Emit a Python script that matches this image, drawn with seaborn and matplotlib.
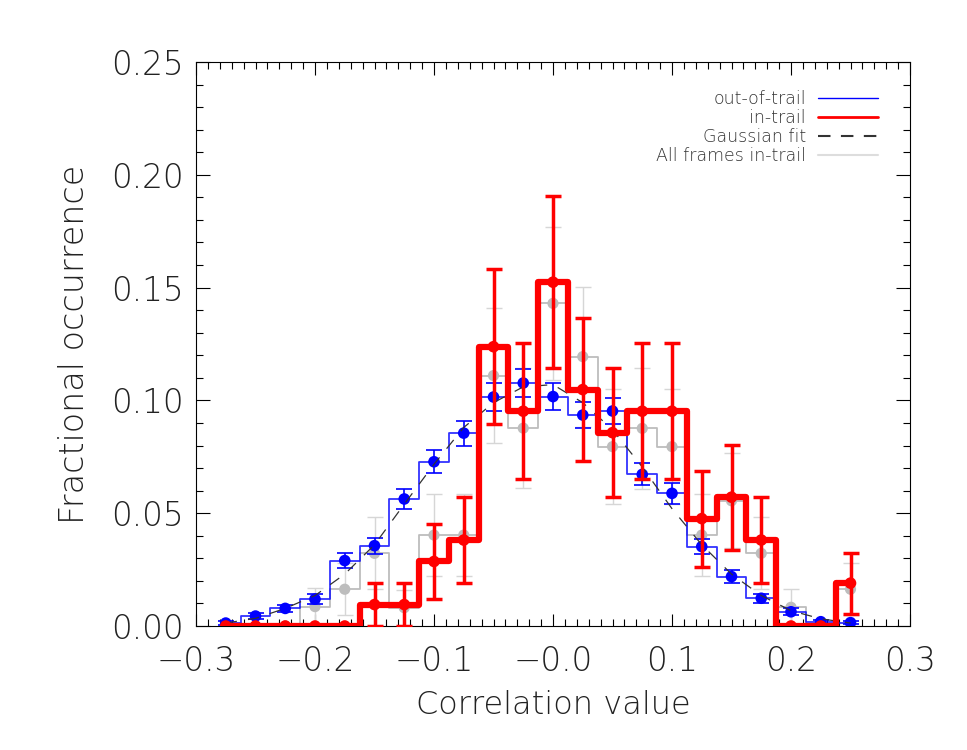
import pandas as pd
import seaborn as sns
import matplotlib.pyplot as plt
from matplotlib.lines import Line2D
from matplotlib.ticker import MultipleLocator, FixedLocator, FixedFormatter


# bin centres of the correlation histogram
bin_centers = [-0.275, -0.25, -0.225, -0.2, -0.175, -0.15, -0.125, -0.1, -0.075, -0.05, -0.025,
               0.0, 0.025, 0.05, 0.075, 0.1, 0.125, 0.15, 0.175, 0.2, 0.225, 0.25]

out_trail = [0.0013, 0.0044, 0.0078, 0.0119, 0.0290, 0.0356, 0.0563, 0.0728, 0.0855, 0.1015, 0.1077,
             0.1017, 0.0935, 0.0953, 0.0672, 0.0588, 0.0352, 0.0219, 0.0123, 0.0063, 0.0019, 0.0015]
out_trail_err = [0.0007, 0.0012, 0.0017, 0.0021, 0.0032, 0.0036, 0.0045, 0.0051, 0.0055, 0.0060, 0.0062,
                 0.0060, 0.0058, 0.0058, 0.0049, 0.0046, 0.0035, 0.0028, 0.0021, 0.0015, 0.0008, 0.0007]

in_trail = [0.0, 0.0, 0.0, 0.0, 0.0, 0.0095, 0.0095, 0.0286, 0.0381, 0.1238, 0.0952,
            0.1524, 0.1048, 0.0857, 0.0952, 0.0952, 0.0476, 0.0571, 0.0381, 0.0, 0.0, 0.0190]
in_trail_err = [0.0, 0.0, 0.0, 0.0, 0.0, 0.0095, 0.0095, 0.0165, 0.0190, 0.0343, 0.0301,
                0.0381, 0.0316, 0.0286, 0.0301, 0.0301, 0.0213, 0.0233, 0.0190, 0.0, 0.0, 0.0135]

all_frames = [0.0, 0.0, 0.0, 0.0086, 0.0163, 0.0322, 0.0081, 0.0403, 0.0403, 0.1110, 0.0877,
              0.1430, 0.1194, 0.0795, 0.0876, 0.0795, 0.0403, 0.0555, 0.0322, 0.0083, 0.0, 0.0163]
all_frames_err = [0.0, 0.0, 0.0, 0.0083, 0.0115, 0.0160, 0.0080, 0.0180, 0.0180, 0.0300, 0.0267,
                  0.0340, 0.0310, 0.0254, 0.0267, 0.0254, 0.0180, 0.0210, 0.0160, 0.0082, 0.0, 0.0115]

gauss_fit = [0.0013, 0.0034, 0.0078, 0.0135, 0.0230, 0.0360, 0.0540, 0.0717, 0.0880, 0.0990, 0.1060,
             0.1070, 0.0990, 0.0870, 0.0705, 0.0520, 0.0360, 0.0230, 0.0135, 0.0068, 0.0032, 0.0013]

xtick_vals = [-0.3, -0.2, -0.1, 0.0, 0.1, 0.2, 0.3]
xtick_labels = ['\u22120.3', '\u22120.2', '\u22120.1', '\u22120.0', '0.1', '0.2', '0.3']

BLUE = '#0000ff'
RED = '#ff0000'
GREY = '#bdbdbd'
GREY_ERR = '#d6d6d6'
TEXT = '#222222'

df = pd.DataFrame({'x': bin_centers, 'out': out_trail, 'out_err': out_trail_err,
                   'in': in_trail, 'in_err': in_trail_err,
                   'all': all_frames, 'all_err': all_frames_err, 'fit': gauss_fit})

sns.set_style('ticks')
plt.rcParams['font.family'] = ['DejaVu Sans']
plt.rcParams['font.weight'] = 'light'
plt.rcParams['axes.labelweight'] = 'light'

fig = plt.figure(figsize=(9.67, 7.5), dpi=100)
ax = fig.add_axes([196 / 967, 1 - 626 / 750, 714 / 967, 564 / 750])

# all frames in-trail (background, grey)
sns.lineplot(data=df, x='x', y='all', ax=ax, estimator=None, drawstyle='steps-mid',
             color=GREY, lw=1.3, zorder=1)
nz = df[df['all'] > 0]
ax.errorbar(nz['x'], nz['all'], yerr=nz['all_err'], fmt='none', ecolor=GREY_ERR,
            elinewidth=1.0, capsize=6, capthick=1.0, zorder=1)
sns.scatterplot(data=df, x='x', y='all', ax=ax, color=GREY, s=65, edgecolor='none', zorder=2)

# out-of-trail (blue)
sns.lineplot(data=df, x='x', y='out', ax=ax, estimator=None, drawstyle='steps-mid',
             color=BLUE, lw=1.3, alpha=0.8, zorder=3)
ax.errorbar(df['x'], df['out'], yerr=df['out_err'], fmt='none', ecolor=BLUE,
            elinewidth=1.2, capsize=6, capthick=1.2, zorder=3)
sns.scatterplot(data=df, x='x', y='out', ax=ax, color=BLUE, s=70, edgecolor='none', zorder=4)

# gaussian fit
sns.lineplot(data=df, x='x', y='fit', ax=ax, estimator=None, color='#333333',
             lw=0.9, dashes=False, linestyle=(0, (9, 9)), zorder=4)

# in-trail (red)
sns.lineplot(data=df, x='x', y='in', ax=ax, estimator=None, drawstyle='steps-mid',
             color=RED, lw=4.5, zorder=5)
nz = df[df['in'] > 0]
ax.errorbar(nz['x'], nz['in'], yerr=nz['in_err'], fmt='none', ecolor=RED,
            elinewidth=2.5, capsize=6, capthick=2.5, zorder=6)
sns.scatterplot(data=df, x='x', y='in', ax=ax, color=RED, s=70, edgecolor='none', zorder=7)

ax.set_xlim(-0.3, 0.3)
ax.set_ylim(0.0, 0.25)
ax.xaxis.set_major_locator(FixedLocator(xtick_vals))
ax.xaxis.set_major_formatter(FixedFormatter(xtick_labels))
ax.xaxis.set_minor_locator(MultipleLocator(0.01))
ax.yaxis.set_major_locator(MultipleLocator(0.05))
ax.yaxis.set_minor_locator(MultipleLocator(0.01))
ax.yaxis.set_major_formatter(plt.FuncFormatter(lambda v, p: f'{v:.2f}'))

ax.tick_params(which='both', direction='in', top=True, right=True, colors='black',
               labelcolor=TEXT, labelsize=23.5, width=0.8)
ax.tick_params(axis='x', which='major', length=9, pad=14)
ax.tick_params(axis='y', which='major', length=10, pad=9)
ax.tick_params(which='minor', length=5)
for sp in ax.spines.values():
    sp.set_linewidth(0.8)
    sp.set_color('black')

ax.set_xlabel('Correlation value', fontsize=23, color=TEXT, labelpad=8)
ax.set_ylabel('Fractional occurrence', fontsize=24, color=TEXT, labelpad=14)

handles = [Line2D([], [], color=BLUE, lw=1.0),
           Line2D([], [], color=RED, lw=2.0),
           Line2D([], [], color='#333333', lw=1.5, linestyle=(0, (6, 5))),
           Line2D([], [], color='#dddddd', lw=1.5)]
labels = ['out-of-trail', 'in-trail', 'Gaussian fit', 'All frames in-trail']
leg = ax.legend(handles, labels, loc='upper right', bbox_to_anchor=(0.965, 0.962),
                frameon=False, markerfirst=False, fontsize=12.5, handlelength=3.45,
                handletextpad=0.7, labelspacing=0.05, borderaxespad=0)
for t in leg.get_texts():
    t.set_color('#333333')

fig.savefig('out.png', dpi=100)
